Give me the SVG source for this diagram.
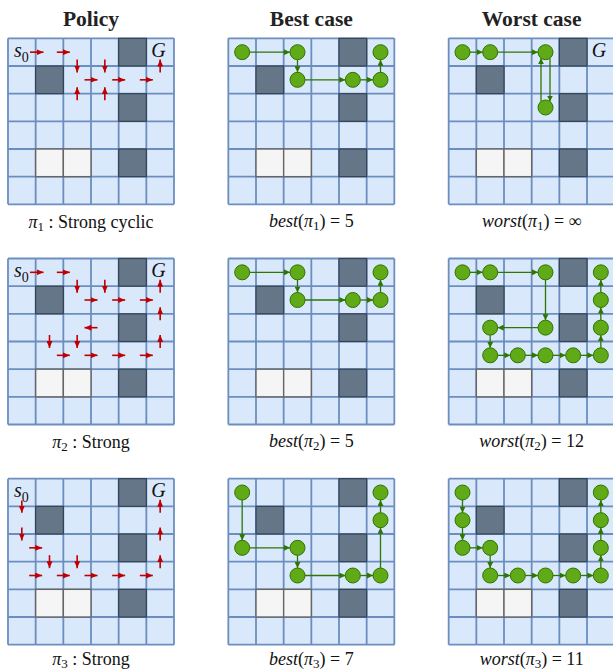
<svg xmlns="http://www.w3.org/2000/svg" xmlns:xlink="http://www.w3.org/1999/xlink" width="613" height="670" viewBox="0 0 613 670">
<style>
.title{font-family:"Liberation Serif","Times New Roman",serif;font-weight:bold;font-size:21.5px;fill:#222;text-anchor:middle}
.cap{font-family:"Liberation Serif","Times New Roman",serif;font-size:18px;fill:#111;text-anchor:middle}
.lbl{font-family:"Liberation Serif","Times New Roman",serif;font-size:20px;fill:#111}
.sub{font-family:"Liberation Serif","Times New Roman",serif;font-size:14px;font-style:normal}
.it{font-style:italic}
.ra{stroke:#c00000;stroke-width:1.6;fill:none;marker-end:url(#ra)}
.ge{stroke:#2d7600;stroke-width:1.3;fill:none;marker-end:url(#ga)}
.n{fill:#60a917;stroke:#2d7600;stroke-width:1}
</style>
<defs>
<marker id="ra" viewBox="0 0 7 6" refX="7" refY="3" markerWidth="7" markerHeight="6" markerUnits="userSpaceOnUse" orient="auto"><path d="M0,0 L7,3 L0,6 z" fill="#c00000"/></marker>
<marker id="ga" viewBox="0 0 6 6" refX="6" refY="3" markerWidth="6" markerHeight="6" markerUnits="userSpaceOnUse" orient="auto"><path d="M0,0 L6,3 L0,6 z" fill="#2d7600"/></marker>
<g id="grid">
<rect x="0" y="0" width="166" height="166" fill="#dae8fc"/>
<path d="M0,0H166M0,27.667H166M0,55.333H166M0,83H166M0,110.667H166M0,138.333H166M0,166H166M0,0V166M27.667,0V166M55.333,0V166M83,0V166M110.667,0V166M138.333,0V166M166,0V166" stroke="#6c8ebf" stroke-width="1.8" fill="none"/>
<g fill="#647687" stroke="#314354" stroke-width="1.2">
<rect x="110.667" y="0" width="27.667" height="27.667"/>
<rect x="27.667" y="27.667" width="27.667" height="27.667"/>
<rect x="110.667" y="55.333" width="27.667" height="27.667"/>
<rect x="110.667" y="110.667" width="27.667" height="27.667"/>
</g>
<g fill="#f5f5f5" stroke="#666666" stroke-width="1.4">
<rect x="27.667" y="110.667" width="27.667" height="27.667"/>
<rect x="55.333" y="110.667" width="27.667" height="27.667"/>
</g>
</g>
</defs>

<g id="titles">
<text class="title" x="91" y="26">Policy</text>
<text class="title" x="311.33" y="26">Best case</text>
<text class="title" x="531.67" y="26">Worst case</text>
</g>

<!-- Row 1 -->
<g id="policy-1">
<use href="#grid" x="8" y="38.33"/>
<text class="lbl it" x="14" y="57">s<tspan class="sub" dy="4.5">0</tspan></text>
<text class="lbl it" x="158.5" y="57" text-anchor="middle">G</text>
<g id="policy-1-arrows">
<path class="ra" d="M30,52.17L43.5,52.17"/>
<path class="ra" d="M56.83,52.17L69.83,52.17"/>
<path class="ra" d="M77.17,59.5L77.17,72.5"/>
<path class="ra" d="M104.83,59.5L104.83,72.5"/>
<path class="ra" d="M84.5,79.83L97.5,79.83"/>
<path class="ra" d="M112.17,79.83L125.17,79.83"/>
<path class="ra" d="M139.83,79.83L152.83,79.83"/>
<path class="ra" d="M160.17,72.5L160.17,59.5"/>
<path class="ra" d="M77.17,100.17L77.17,87.17"/>
<path class="ra" d="M104.83,100.17L104.83,87.17"/>
</g>
<text class="cap" x="91" y="227.5"><tspan class="it">π</tspan><tspan font-size="13" dy="3">1</tspan><tspan dy="-3"> : Strong cyclic</tspan></text>
</g>

<g id="best-1">
<use href="#grid" x="228.33" y="38.33"/>
<g id="best-1-connectors">
<path class="ge" d="M249.67,52.17H290"/>
<path class="ge" d="M297.5,59.67V72.33"/>
<path class="ge" d="M305,79.83H345.33"/>
<path class="ge" d="M360.33,79.83H373"/>
<path class="ge" d="M380.5,72.33V59.67"/>
</g>
<g id="best-1-nodes">
<circle class="n" cx="242.17" cy="52.17" r="7.5"/>
<circle class="n" cx="297.5" cy="52.17" r="7.5"/>
<circle class="n" cx="297.5" cy="79.83" r="7.5"/>
<circle class="n" cx="352.83" cy="79.83" r="7.5"/>
<circle class="n" cx="380.5" cy="79.83" r="7.5"/>
<circle class="n" cx="380.5" cy="52.17" r="7.5"/>
</g>
<text class="cap" x="311.33" y="227"><tspan class="it">best</tspan>(<tspan class="it">π</tspan><tspan font-size="13" dy="3">1</tspan><tspan dy="-3">) = 5</tspan></text>
</g>

<g id="worst-1">
<use href="#grid" x="448.67" y="38.33"/>
<text class="lbl it" x="599" y="57" text-anchor="middle">G</text>
<g id="worst-1-connectors">
<path class="ge" d="M470,52.17H482.67"/>
<path class="ge" d="M497.67,52.17H538"/>
<path class="ge" d="M550,58.2V101.5"/>
<path class="ge" d="M541,101.5V58.2"/>
</g>
<g id="worst-1-nodes">
<circle class="n" cx="462.5" cy="52.17" r="7.5"/>
<circle class="n" cx="490.17" cy="52.17" r="7.5"/>
<circle class="n" cx="545.5" cy="52.17" r="7.5"/>
<circle class="n" cx="545.5" cy="107.5" r="7.5"/>
</g>
<text class="cap" x="531.67" y="227"><tspan class="it">worst</tspan>(<tspan class="it">π</tspan><tspan font-size="13" dy="3">1</tspan><tspan dy="-3">) = ∞</tspan></text>
</g>

<!-- Row 2 -->
<g id="policy-2">
<use href="#grid" x="8" y="258.5"/>
<text class="lbl it" x="14" y="277.2">s<tspan class="sub" dy="4.5">0</tspan></text>
<text class="lbl it" x="158.5" y="277.2" text-anchor="middle">G</text>
<g id="policy-2-arrows">
<path class="ra" d="M30,272.33L43.5,272.33"/>
<path class="ra" d="M56.83,272.33L69.83,272.33"/>
<path class="ra" d="M77.17,279.67L77.17,292.67"/>
<path class="ra" d="M104.83,279.67L104.83,292.67"/>
<path class="ra" d="M84.5,300L97.5,300"/>
<path class="ra" d="M112.17,300L125.17,300"/>
<path class="ra" d="M139.83,300L152.83,300"/>
<path class="ra" d="M160.17,292.67L160.17,279.67"/>
<path class="ra" d="M160.17,320.33L160.17,307.33"/>
<path class="ra" d="M160.17,348L160.17,335"/>
<path class="ra" d="M97.5,327.67L84.5,327.67"/>
<path class="ra" d="M49.5,335L49.5,348"/>
<path class="ra" d="M77.17,335L77.17,348"/>
<path class="ra" d="M56.83,355.33L69.83,355.33"/>
<path class="ra" d="M84.5,355.33L97.5,355.33"/>
<path class="ra" d="M112.17,355.33L125.17,355.33"/>
<path class="ra" d="M139.83,355.33L152.83,355.33"/>
</g>
<text class="cap" x="91" y="447.5"><tspan class="it">π</tspan><tspan font-size="13" dy="3">2</tspan><tspan dy="-3"> : Strong</tspan></text>
</g>

<g id="best-2">
<use href="#grid" x="228.33" y="258.5"/>
<g id="best-2-connectors">
<path class="ge" d="M249.67,272.33H290"/>
<path class="ge" d="M297.5,279.83V292.5"/>
<path class="ge" d="M305,300H345.33"/>
<path class="ge" d="M360.33,300H373"/>
<path class="ge" d="M380.5,292.5V279.83"/>
</g>
<g id="best-2-nodes">
<circle class="n" cx="242.17" cy="272.33" r="7.5"/>
<circle class="n" cx="297.5" cy="272.33" r="7.5"/>
<circle class="n" cx="297.5" cy="300" r="7.5"/>
<circle class="n" cx="352.83" cy="300" r="7.5"/>
<circle class="n" cx="380.5" cy="300" r="7.5"/>
<circle class="n" cx="380.5" cy="272.33" r="7.5"/>
</g>
<text class="cap" x="311.33" y="447"><tspan class="it">best</tspan>(<tspan class="it">π</tspan><tspan font-size="13" dy="3">2</tspan><tspan dy="-3">) = 5</tspan></text>
</g>

<g id="worst-2">
<use href="#grid" x="448.67" y="258.5"/>
<g id="worst-2-connectors">
<path class="ge" d="M470,272.33H482.67"/>
<path class="ge" d="M497.67,272.33H538"/>
<path class="ge" d="M545.5,279.83V320.17"/>
<path class="ge" d="M538,327.67H497.67"/>
<path class="ge" d="M490.17,335.17V347.83"/>
<path class="ge" d="M497.67,355.33H510.33"/>
<path class="ge" d="M525.33,355.33H538"/>
<path class="ge" d="M553,355.33H565.67"/>
<path class="ge" d="M580.67,355.33H593.33"/>
<path class="ge" d="M600.83,347.83V335.17"/>
<path class="ge" d="M600.83,320.17V307.5"/>
<path class="ge" d="M600.83,292.5V279.83"/>
</g>
<g id="worst-2-nodes">
<circle class="n" cx="462.5" cy="272.33" r="7.5"/>
<circle class="n" cx="490.17" cy="272.33" r="7.5"/>
<circle class="n" cx="545.5" cy="272.33" r="7.5"/>
<circle class="n" cx="545.5" cy="327.67" r="7.5"/>
<circle class="n" cx="490.17" cy="327.67" r="7.5"/>
<circle class="n" cx="490.17" cy="355.33" r="7.5"/>
<circle class="n" cx="517.83" cy="355.33" r="7.5"/>
<circle class="n" cx="545.5" cy="355.33" r="7.5"/>
<circle class="n" cx="573.17" cy="355.33" r="7.5"/>
<circle class="n" cx="600.83" cy="355.33" r="7.5"/>
<circle class="n" cx="600.83" cy="327.67" r="7.5"/>
<circle class="n" cx="600.83" cy="300" r="7.5"/>
<circle class="n" cx="600.83" cy="272.33" r="7.5"/>
</g>
<text class="cap" x="531.67" y="447"><tspan class="it">worst</tspan>(<tspan class="it">π</tspan><tspan font-size="13" dy="3">2</tspan><tspan dy="-3">) = 12</tspan></text>
</g>

<!-- Row 3 -->
<g id="policy-3">
<use href="#grid" x="8" y="478.67"/>
<text class="lbl it" x="14" y="497.3">s<tspan class="sub" dy="4.5">0</tspan></text>
<text class="lbl it" x="158.5" y="497.3" text-anchor="middle">G</text>
<g id="policy-3-arrows">
<path class="ra" d="M21.83,500.5L21.83,512.83"/>
<path class="ra" d="M21.83,527.5L21.83,540.5"/>
<path class="ra" d="M29.17,547.83L42.17,547.83"/>
<path class="ra" d="M49.5,555.17L49.5,568.17"/>
<path class="ra" d="M77.17,555.17L77.17,568.17"/>
<path class="ra" d="M29.17,575.5L42.17,575.5"/>
<path class="ra" d="M56.83,575.5L69.83,575.5"/>
<path class="ra" d="M84.5,575.5L97.5,575.5"/>
<path class="ra" d="M112.17,575.5L125.17,575.5"/>
<path class="ra" d="M139.83,575.5L152.83,575.5"/>
<path class="ra" d="M160.17,512.83L160.17,499.83"/>
<path class="ra" d="M160.17,540.5L160.17,527.5"/>
<path class="ra" d="M160.17,568.17L160.17,555.17"/>
</g>
<text class="cap" x="91" y="665"><tspan class="it">π</tspan><tspan font-size="13" dy="2.5">3</tspan><tspan dy="-2.5"> : Strong</tspan></text>
</g>

<g id="best-3">
<use href="#grid" x="228.33" y="478.67"/>
<g id="best-3-connectors">
<path class="ge" d="M242.17,500V540.33"/>
<path class="ge" d="M249.67,547.83H290"/>
<path class="ge" d="M297.5,555.33V568"/>
<path class="ge" d="M305,575.5H345.33"/>
<path class="ge" d="M360.33,575.5H373"/>
<path class="ge" d="M380.5,568V527.67"/>
<path class="ge" d="M380.5,512.67V500"/>
</g>
<g id="best-3-nodes">
<circle class="n" cx="242.17" cy="492.5" r="7.5"/>
<circle class="n" cx="242.17" cy="547.83" r="7.5"/>
<circle class="n" cx="297.5" cy="547.83" r="7.5"/>
<circle class="n" cx="297.5" cy="575.5" r="7.5"/>
<circle class="n" cx="352.83" cy="575.5" r="7.5"/>
<circle class="n" cx="380.5" cy="575.5" r="7.5"/>
<circle class="n" cx="380.5" cy="520.17" r="7.5"/>
<circle class="n" cx="380.5" cy="492.5" r="7.5"/>
</g>
<text class="cap" x="311.33" y="665"><tspan class="it">best</tspan>(<tspan class="it">π</tspan><tspan font-size="13" dy="2.5">3</tspan><tspan dy="-2.5">) = 7</tspan></text>
</g>

<g id="worst-3">
<use href="#grid" x="448.67" y="478.67"/>
<g id="worst-3-connectors">
<path class="ge" d="M462.5,500V512.67"/>
<path class="ge" d="M462.5,527.67V540.33"/>
<path class="ge" d="M470,547.83H482.67"/>
<path class="ge" d="M490.17,555.33V568"/>
<path class="ge" d="M497.67,575.5H510.33"/>
<path class="ge" d="M525.33,575.5H538"/>
<path class="ge" d="M553,575.5H565.67"/>
<path class="ge" d="M580.67,575.5H593.33"/>
<path class="ge" d="M600.83,568V555.33"/>
<path class="ge" d="M600.83,540.33V527.67"/>
<path class="ge" d="M600.83,512.67V500"/>
</g>
<g id="worst-3-nodes">
<circle class="n" cx="462.5" cy="492.5" r="7.5"/>
<circle class="n" cx="462.5" cy="520.17" r="7.5"/>
<circle class="n" cx="462.5" cy="547.83" r="7.5"/>
<circle class="n" cx="490.17" cy="547.83" r="7.5"/>
<circle class="n" cx="490.17" cy="575.5" r="7.5"/>
<circle class="n" cx="517.83" cy="575.5" r="7.5"/>
<circle class="n" cx="545.5" cy="575.5" r="7.5"/>
<circle class="n" cx="573.17" cy="575.5" r="7.5"/>
<circle class="n" cx="600.83" cy="575.5" r="7.5"/>
<circle class="n" cx="600.83" cy="547.83" r="7.5"/>
<circle class="n" cx="600.83" cy="520.17" r="7.5"/>
<circle class="n" cx="600.83" cy="492.5" r="7.5"/>
</g>
<text class="cap" x="531.67" y="665"><tspan class="it">worst</tspan>(<tspan class="it">π</tspan><tspan font-size="13" dy="2.5">3</tspan><tspan dy="-2.5">) = 11</tspan></text>
</g>
</svg>
